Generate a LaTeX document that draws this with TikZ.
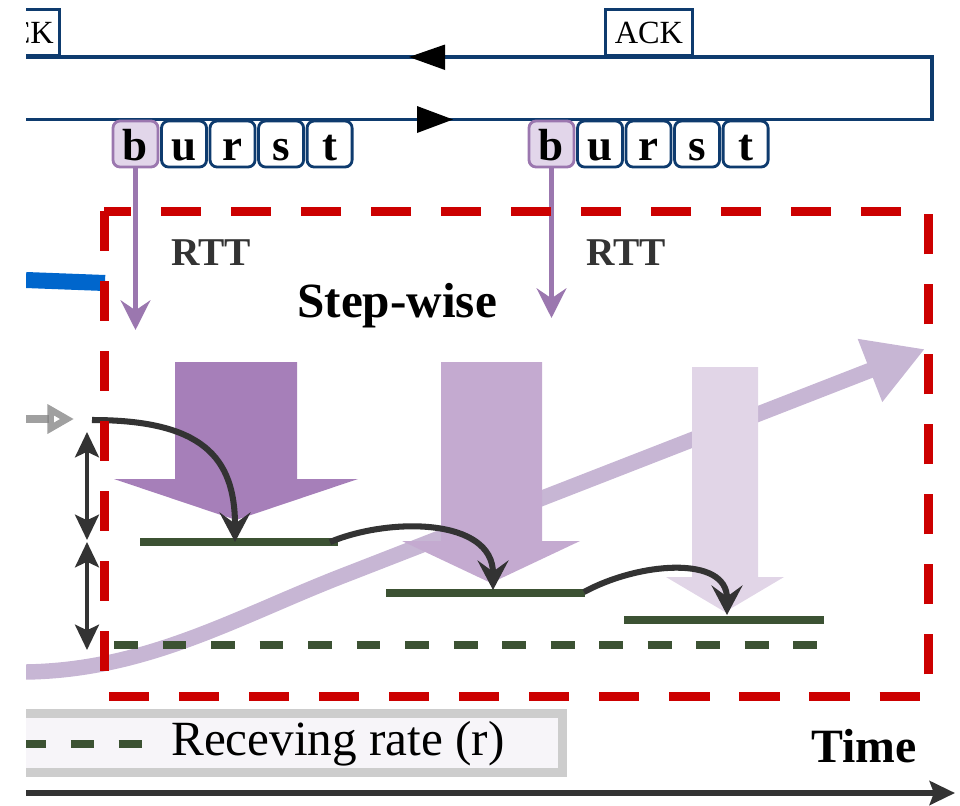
\documentclass[tikz,border=0pt]{standalone}
\usepackage{fontspec}
\setmainfont{Liberation Serif}
\usetikzlibrary{arrows.meta,positioning}
\definecolor{linkblue}{HTML}{0E3B6E}
\definecolor{rttpurple}{HTML}{9B77AF}
\definecolor{bfill}{HTML}{E2D6EA}
\definecolor{framered}{HTML}{CC0000}
\definecolor{rategreen}{HTML}{3C5233}
\definecolor{curvegrey}{HTML}{333333}
\definecolor{trendpurple}{HTML}{C7B6D4}
\definecolor{stepA}{HTML}{A67FB9}
\definecolor{stepB}{HTML}{C4AAD0}
\definecolor{stepC}{HTML}{E1D5E7}
\definecolor{sendblue}{HTML}{0066CC}
\definecolor{legendfill}{HTML}{F7F5F9}
\definecolor{legendedge}{HTML}{CDCDCD}

\begin{document}
\begin{tikzpicture}[x=0.025cm,y=-0.025cm,
	letter/.style={draw=linkblue,fill=white,line width=2pt,rounded corners=5pt,minimum width=1.125cm,
	minimum height=1.15cm,inner sep=0pt,text height=24pt,text depth=1pt,font=\fontsize{32}{32}\selectfont\bfseries},
	firstletter/.style={letter,draw=rttpurple,fill=bfill},
	ackbox/.style={draw=linkblue,fill=white,line width=2pt,minimum width=2.175cm,minimum height=1.15cm,
	inner sep=0pt,font=\fontsize{23}{23}\selectfont},
	link/.style={draw=linkblue,line width=2.8pt},
	rtt/.style={draw=rttpurple,line width=3.5pt,-{Stealth[length=21pt,width=21pt,inset=7pt]}},
	rtttext/.style={inner sep=0pt,text=curvegrey,font=\fontsize{28}{28}\selectfont\bfseries},
	hop/.style={draw=curvegrey,line width=4.3pt,-{Stealth[length=21pt,width=22pt,inset=8pt]}},
	gap/.style={draw=curvegrey,line width=3pt,{Stealth[length=18pt,width=17pt,inset=4pt]}-{Stealth[length=18pt,width=17pt,inset=4pt]}},
	level/.style={draw=rategreen,line width=6pt},
	frame/.style={draw=framered,line width=6.4pt,dash pattern=on 28.5pt off 21.3pt}]
\useasboundingbox (0,0) rectangle (960,805);
\clip (26,0) rectangle (960,805);

\coordinate (l0) at (26,57);
\coordinate (l1) at (932,57);
\coordinate (l2) at (932,119.5);
\coordinate (l3) at (26,119.5);
\draw[link] (l3) -- (l2) -- (l1) -- (l0);
\fill (409,57) -- (445,44.5) -- (445,70) -- cycle;
\fill (453,119.5) -- (417,106) -- (417,133) -- cycle;

\node[ackbox,minimum width=2cm,anchor=south east] (ack1) at (61,57) {ACK};
\node[ackbox,anchor=south west] (ack2) at (604,57) {ACK};

\node[firstletter] (b1) at (135.5,144) {b};
\node[letter,right=0.5pt of b1] (u1) {u};
\node[letter,right=0.5pt of u1] (r1) {r};
\node[letter,right=0.5pt of r1] (s1) {s};
\node[letter,right=0.5pt of s1] (t1) {t};
\node[firstletter] (b2) at (551.5,144) {b};
\node[letter,right=0.5pt of b2] (u2) {u};
\node[letter,right=0.5pt of u2] (r2) {r};
\node[letter,right=0.5pt of r2] (s2) {s};
\node[letter,right=0.5pt of s2] (t2) {t};

\coordinate (rtt1) at (135.5,330);
\coordinate (rtt2) at (551.5,318);
\draw[rtt] (b1.south) -- (rtt1);
\draw[rtt] (b2.south) -- (rtt2);
\node[rtttext,anchor=base west] (rttlbl1) at (171,265) {RTT};
\node[rtttext,anchor=base west] (rttlbl2) at (586,265) {RTT};
\node[inner sep=0pt,font=\fontsize{35}{35}\selectfont\bfseries,anchor=base west] (step) at (297,317) {Step-wise};

\draw[trendpurple,line width=11pt,-{Triangle[length=42pt,width=45pt]}]
	(26,672) .. controls (150,670) and (240,615) .. (350,573) -- (925,349);
\draw[sendblue,line width=11.4pt] (26,280) -- (105,283);

\fill[stepA] (175,362) -- (297,362) -- (297,479) -- (358,479) -- (236,520) -- (114,479) -- (175,479) -- cycle;
\fill[stepB] (441,362) -- (542,362) -- (542,541) -- (580,541) -- (491,583) -- (402,541) -- (441,541) -- cycle;
\fill[stepC] (692,367) -- (758,367) -- (758,577) -- (784,577) -- (725,612) -- (666,577) -- (692,577) -- cycle;

\coordinate (g1a) at (140,542);
\coordinate (g1b) at (338,542);
\coordinate (g2a) at (386,593);
\coordinate (g2b) at (585,593);
\coordinate (g3a) at (624,620);
\coordinate (g3b) at (824,620);
\draw[level] (g1a) -- (g1b);
\draw[level] (g2a) -- (g2b);
\draw[level] (g3a) -- (g3b);
\coordinate (r0) at (114,645);
\coordinate (r1) at (822,645);
\draw[level,line width=5pt,dash pattern=on 17pt off 17.5pt] (r0) -- (r1);

\coordinate (c0) at (92,420);
\coordinate (h1) at (235,542);
\coordinate (h1s) at (330,542);
\coordinate (h2) at (493,590);
\coordinate (h2s) at (584,592);
\coordinate (h3) at (727,615);
\draw[hop] (c0) .. controls +(110,0) and +(0,-85) .. (h1);
\draw[hop] (h1s) .. controls +(60,-25) and +(0,-72) .. (h2);
\draw[hop] (h2s) .. controls +(55,-30) and +(0,-60) .. (h3);

\coordinate (in0) at (26,419);
\coordinate (in1) at (74,419);
\draw[gray,opacity=0.75,line width=5pt,-{Triangle[open,length=19pt,width=20pt]}] (in0) -- (in1);

\coordinate (d0) at (87,432);
\coordinate (d1) at (87,540);
\coordinate (d1b) at (87,542);
\coordinate (d2) at (87,650);
\draw[gap] (d0) -- (d1);
\draw[gap] (d1b) -- (d2);

\draw[frame] (104,211) rectangle (928,696);

\draw[draw=legendedge,fill=legendfill,line width=6.4pt] (-20,713.5) rectangle (562.5,772.5);
\draw[level,dash pattern=on 16.3pt off 17.7pt] (23,744) -- (145,744);
\node[inner sep=0pt,font=\fontsize{35}{35}\selectfont,anchor=base west] (rate) at (171,755) {Receving rate (r)};
\node[inner sep=0pt,font=\fontsize{34}{34}\selectfont\bfseries,anchor=base east] (time) at (917,762) {Time};

\coordinate (t0) at (26,793);
\coordinate (t1) at (955,793);
\draw[curvegrey,line width=4.3pt,-{Stealth[length=18pt,width=17pt,inset=3pt]}] (t0) -- (t1);
\end{tikzpicture}
\end{document}
